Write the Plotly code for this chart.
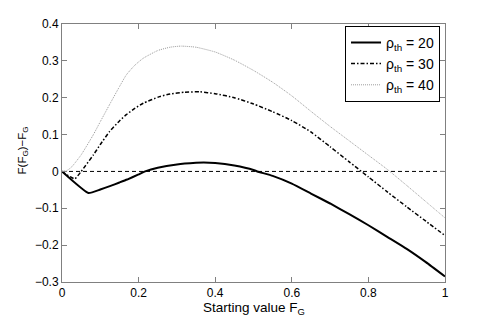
import plotly.graph_objects as go

x20 = [0, 0.069, 0.1, 0.125, 0.15, 0.17, 0.2, 0.217, 0.25, 0.3, 0.35, 0.37, 0.4, 0.45, 0.5, 0.51,
       0.55, 0.6, 0.65, 0.7, 0.75, 0.8, 0.85, 0.9, 0.95, 1.0]
y20 = [0, -0.0585, -0.049, -0.040, -0.030, -0.022, -0.008, 0, 0.010, 0.019, 0.0235, 0.0244, 0.023,
       0.016, 0.004, 0, -0.012, -0.033, -0.060, -0.087, -0.116, -0.146, -0.178, -0.210, -0.246, -0.285]

x30 = [0, 0.033, 0.05, 0.082, 0.1, 0.124, 0.15, 0.168, 0.19, 0.212, 0.255, 0.282, 0.32, 0.36, 0.4,
       0.45, 0.5, 0.55, 0.6, 0.65, 0.7, 0.75, 0.8, 0.85, 0.9, 0.95, 1.0]
y30 = [0, -0.020, 0, 0.045, 0.073, 0.108, 0.137, 0.154, 0.171, 0.185, 0.203, 0.210, 0.215, 0.216,
       0.211, 0.200, 0.183, 0.162, 0.138, 0.107, 0.067, 0.026, -0.015, -0.056, -0.096, -0.135, -0.174]

x40 = [0, 0.012, 0.025, 0.05, 0.082, 0.1, 0.124, 0.15, 0.168, 0.19, 0.212, 0.25, 0.282, 0.31, 0.35,
       0.4, 0.45, 0.5, 0.55, 0.6, 0.65, 0.7, 0.75, 0.8, 0.85, 0.9, 0.95, 1.0]
y40 = [0, 0.002, 0.012, 0.045, 0.100, 0.135, 0.181, 0.230, 0.262, 0.288, 0.307, 0.328, 0.337, 0.340,
       0.337, 0.324, 0.302, 0.274, 0.242, 0.205, 0.163, 0.122, 0.083, 0.044, 0.005, -0.038, -0.082, -0.126]

zero_x = [0, 1]
zero_y = [0, 0]

x_ticks = [0, 0.2, 0.4, 0.6, 0.8, 1]
y_ticks = [-0.3, -0.2, -0.1, 0, 0.1, 0.2, 0.3, 0.4]

FONT = "Liberation Sans, Arial, sans-serif"
AXIS_COLOR = "#808080"

fig = go.Figure()
fig.add_trace(go.Scatter(x=x20, y=y20, mode="lines", name="ρ<sub>th</sub> = 20",
                         line=dict(color="black", width=2, shape="spline", smoothing=0.4)))
fig.add_trace(go.Scatter(x=x30, y=y30, mode="lines", name="ρ<sub>th</sub> = 30",
                         line=dict(color="black", width=1.5, dash="4px,2px,1.5px,2px",
                                   shape="spline", smoothing=0.5)))
fig.add_trace(go.Scatter(x=x40, y=y40, mode="lines", name="ρ<sub>th</sub> = 40",
                         line=dict(color="#9c9c9c", width=1, dash="1px,1px",
                                   shape="spline", smoothing=0.5)))
fig.add_trace(go.Scatter(x=zero_x, y=zero_y, mode="lines", showlegend=False,
                         line=dict(color="black", width=1, dash="4px,3px")))

axis_common = dict(
    showline=True, linecolor=AXIS_COLOR, linewidth=1, mirror="allticks",
    ticks="inside", ticklen=5, tickcolor=AXIS_COLOR, showgrid=False, zeroline=False,
    tickfont=dict(size=12, color="black", family=FONT), automargin=False,
)

fig.update_xaxes(range=[0, 1], tickvals=x_ticks, ticktext=["0", "0.2", "0.4", "0.6", "0.8", "1"],
                 **axis_common)
fig.update_yaxes(range=[-0.3, 0.4], tickvals=y_ticks,
                 ticktext=["\u22120.3", "\u22120.2", "\u22120.1", "0", "0.1", "0.2", "0.3", "0.4"],
                 **axis_common)

# the page body keeps its default 8px margin, so margins are trimmed by 8px on left/top
fig.add_annotation(text="Starting value F<sub>G</sub>", xref="paper", yref="paper",
                   x=0.5, y=0, yshift=-16, xanchor="center", yanchor="top",
                   showarrow=False, font=dict(size=13.5, color="black", family=FONT))
fig.add_annotation(text="F(F<sub>G</sub>)\u2212F<sub>G</sub>", xref="paper", yref="paper",
                   x=0, y=0.51, xshift=-30, xanchor="right", yanchor="middle",
                   textangle=-90, showarrow=False, font=dict(size=11.5, color="black", family=FONT))

fig.update_layout(
    width=491, height=320,
    margin=dict(l=54, r=54, t=16, b=46),
    plot_bgcolor="white", paper_bgcolor="white",
    font=dict(family=FONT, size=12, color="black"),
    showlegend=True,
    legend=dict(
        x=0.987, y=0.993, xanchor="right", yanchor="top",
        bgcolor="white", bordercolor="black", borderwidth=1,
        font=dict(size=14, family=FONT, color="black"),
        itemwidth=30, tracegroupgap=0,
    ),
)

fig.write_html("out.html")
